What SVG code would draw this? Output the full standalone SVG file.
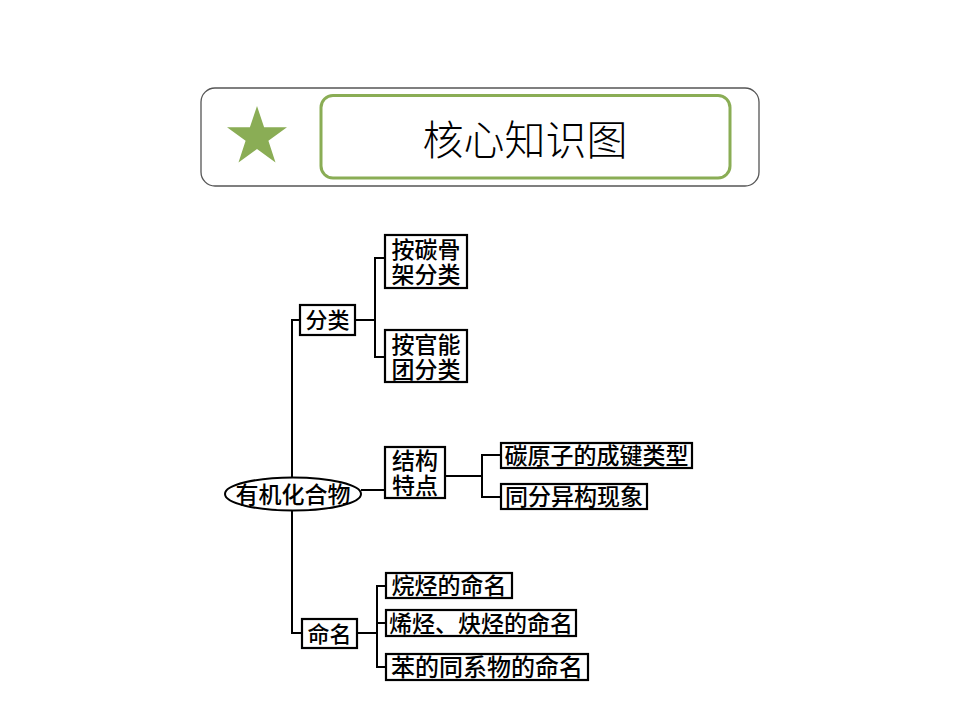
<svg xmlns="http://www.w3.org/2000/svg" width="960" height="720" viewBox="0 0 960 720">
<style>
.box{fill:#fff;stroke:#000;stroke-width:2.2}
.t{font-family:"Noto Sans CJK SC","Noto Sans CJK JP",sans-serif;font-size:23px;font-weight:500;fill:#000;text-anchor:middle}
.c{fill:none;stroke:#000;stroke-width:2}
</style>
<rect width="960" height="720" fill="#fff"/>
<g id="banner">
<rect x="201" y="88" width="558" height="98" rx="14" fill="#fff" stroke="#555" stroke-width="1.3"/>
<rect x="321" y="95.5" width="409" height="82.5" rx="12" fill="#fff" stroke="#8aad55" stroke-width="3"/>
<polygon fill="#8aad55" points="257,106 264.1,127.3 287,127.3 268.4,140.7 275.5,162.5 257,149 238.5,162.5 245.6,140.7 227,127.3 249.9,127.3"/>
<text x="525" y="155" font-family="'Noto Sans CJK SC','Noto Sans CJK JP',sans-serif" font-size="41" font-weight="300" text-anchor="middle" fill="#000">核心知识图</text>
</g>
<g id="connectors">
<path class="c" d="M300,320 H292 V633 H302"/>
<path class="c" d="M361,490 H385"/>
<path class="c" d="M355,320 H375 M385,258 H375 V357 H385"/>
<path class="c" d="M445,476 H482 M501,455 H482 V497 H501"/>
<path class="c" d="M357,633 H377 M386,586 H377 V667 H386 M377,623 H386"/>
</g>
<g id="root">
<ellipse cx="293" cy="494" rx="68" ry="16.5" fill="#fff" stroke="#000" stroke-width="2"/>
<text class="t" x="293" y="503">有机化合物</text>
</g>
<g id="n-fenlei">
<rect class="box" x="300" y="305" width="55" height="30"/>
<text class="t" x="327.5" y="328" style="font-size:22px">分类</text>
</g>
<g id="n-tanguja">
<rect class="box" x="385" y="235" width="82" height="53"/>
<text class="t"><tspan x="426" y="258">按碳骨</tspan><tspan x="426" y="283">架分类</tspan></text>
</g>
<g id="n-guanneng">
<rect class="box" x="385" y="330" width="82" height="52"/>
<text class="t"><tspan x="426" y="353">按官能</tspan><tspan x="426" y="378">团分类</tspan></text>
</g>
<g id="n-jiegou">
<rect class="box" x="385" y="447" width="60" height="51"/>
<text class="t"><tspan x="415" y="469">结构</tspan><tspan x="415" y="494">特点</tspan></text>
</g>
<g id="n-chengjian">
<rect class="box" x="501" y="443" width="191" height="25"/>
<text class="t" x="596.5" y="464">碳原子的成键类型</text>
</g>
<g id="n-tongfen">
<rect class="box" x="501" y="484" width="146" height="25"/>
<text class="t" x="574" y="505">同分异构现象</text>
</g>
<g id="n-mingming">
<rect class="box" x="302" y="619" width="55" height="29"/>
<text class="t" x="329.5" y="642" style="font-size:22px">命名</text>
</g>
<g id="n-wanting">
<rect class="box" x="386" y="573" width="126" height="25"/>
<text class="t" x="449" y="594">烷烃的命名</text>
</g>
<g id="n-xiting">
<rect class="box" x="386" y="610" width="190" height="26"/>
<text class="t" x="481" y="632">烯烃、炔烃的命名</text>
</g>
<g id="n-ben">
<rect class="box" x="386" y="654" width="202" height="26"/>
<text class="t" x="487" y="676" style="font-size:24px">苯的同系物的命名</text>
</g>
</svg>
